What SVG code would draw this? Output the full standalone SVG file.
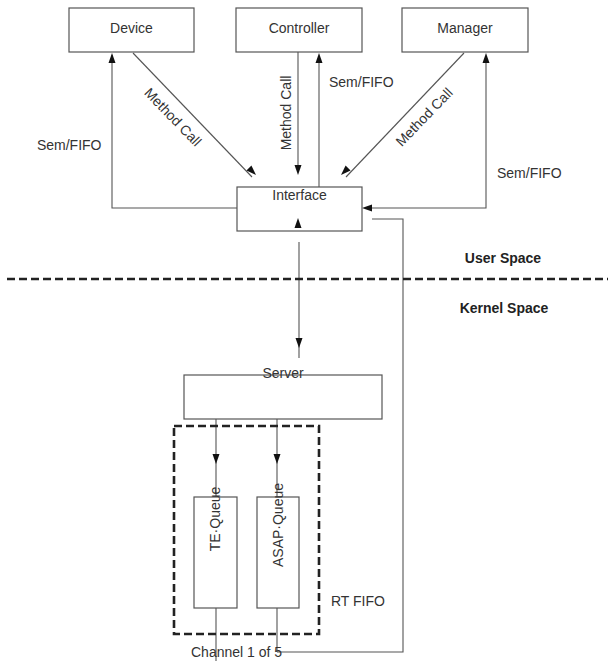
<svg xmlns="http://www.w3.org/2000/svg" xmlns:xlink="http://www.w3.org/1999/xlink" width="608" height="661" viewBox="0 0 608 661">
<style>
.box{fill:#fff;stroke:#555;stroke-width:1.2}
.ln{fill:none;stroke:#555;stroke-width:1.1}
.dash{fill:none;stroke:#222;stroke-width:2.6;stroke-dasharray:8 4}
.t{font-family:"Liberation Sans",Arial,sans-serif;font-size:14px;fill:#333}
.m{text-anchor:middle}
.b{font-weight:bold;fill:#222}
.ah{fill:#111}
</style>
<defs>
<path id="ah" d="M0,0 L-10,-3.5 L-10,3.5 Z"/>
</defs>
<rect width="608" height="661" fill="#fff"/>
<g id="connectors">
<polyline class="ln" points="112,55 112,208 237,208"/>
<line class="ln" x1="133" y1="53" x2="252" y2="177"/>
<line class="ln" x1="298" y1="52" x2="298" y2="168"/>
<line class="ln" x1="319" y1="187" x2="319" y2="58"/>
<line class="ln" x1="464" y1="53" x2="346" y2="177"/>
<polyline class="ln" points="486,58 486,208 366,208"/>
<polyline class="ln" points="372,219 403,219 403,652 277,652"/>
<line class="ln" x1="299" y1="242" x2="299" y2="358"/>
<line class="ln" x1="216" y1="419" x2="216" y2="497"/>
<line class="ln" x1="216" y1="608" x2="216" y2="661"/>
<line class="ln" x1="277" y1="419" x2="277" y2="497"/>
<line class="ln" x1="277" y1="608" x2="277" y2="652"/>
<use href="#ah" class="ah" transform="translate(112,53) rotate(-90)"/>
<use href="#ah" class="ah" transform="translate(256,175) rotate(45)"/>
<use href="#ah" class="ah" transform="translate(298,175) rotate(90)"/>
<use href="#ah" class="ah" transform="translate(319,53) rotate(-90)"/>
<use href="#ah" class="ah" transform="translate(341,175) rotate(135)"/>
<use href="#ah" class="ah" transform="translate(486,53) rotate(-90)"/>
<use href="#ah" class="ah" transform="translate(362,208) rotate(180)"/>
<use href="#ah" class="ah" transform="translate(298,218) rotate(-90)"/>
<use href="#ah" class="ah" transform="translate(299,348) rotate(90)"/>
<use href="#ah" class="ah" transform="translate(216,464) rotate(90)"/>
<use href="#ah" class="ah" transform="translate(277,464) rotate(90)"/>
<text class="t" x="101.5" y="150" text-anchor="end">Sem/FIFO</text>
<text class="t" x="329" y="87">Sem/FIFO</text>
<text class="t" x="497" y="178">Sem/FIFO</text>
<text class="t m" transform="translate(173,117) rotate(46)" dominant-baseline="central">Method Call</text>
<text class="t m" transform="translate(285.5,113) rotate(-90)" dominant-baseline="central">Method Call</text>
<text class="t m" transform="translate(424,117) rotate(-46)" dominant-baseline="central">Method Call</text>
<text class="t" x="191" y="657">Channel 1 of 5</text>
</g>
<g id="divider">
<line class="dash" x1="7" y1="279" x2="608" y2="279" stroke-width="2.4"/>
<text class="t m b" x="503" y="263">User Space</text>
<text class="t m b" x="504" y="313">Kernel Space</text>
</g>
<g id="device">
<rect class="box" x="69" y="8" width="125" height="44"/>
<text class="t m" x="131.5" y="33">Device</text>
</g>
<g id="controller">
<rect class="box" x="236" y="8" width="126" height="44"/>
<text class="t m" x="299" y="33">Controller</text>
</g>
<g id="manager">
<rect class="box" x="402" y="8" width="126" height="44"/>
<text class="t m" x="465" y="33">Manager</text>
</g>
<g id="interface">
<rect class="box" x="237" y="187" width="125" height="44" style="fill:none"/>
<text class="t m" x="299.5" y="200">Interface</text>
</g>
<g id="server">
<rect class="box" x="184" y="375" width="198" height="44" style="fill:none"/>
<text class="t m" x="283" y="377.5">Server</text>
</g>
<g id="rt-fifo">
<rect class="dash" x="174" y="426" width="145" height="208"/>
<text class="t" x="331" y="605.5">RT FIFO</text>
</g>
<g id="te-queue">
<rect class="box" x="194" y="497" width="43" height="111" style="fill:none"/>
<text class="t m" transform="translate(219.5,519) rotate(-90)">TE·Queue</text>
</g>
<g id="asap-queue">
<rect class="box" x="257" y="497" width="42" height="111" style="fill:none"/>
<text class="t m" transform="translate(283,525) rotate(-90)">ASAP·Queue</text>
</g>
</svg>
